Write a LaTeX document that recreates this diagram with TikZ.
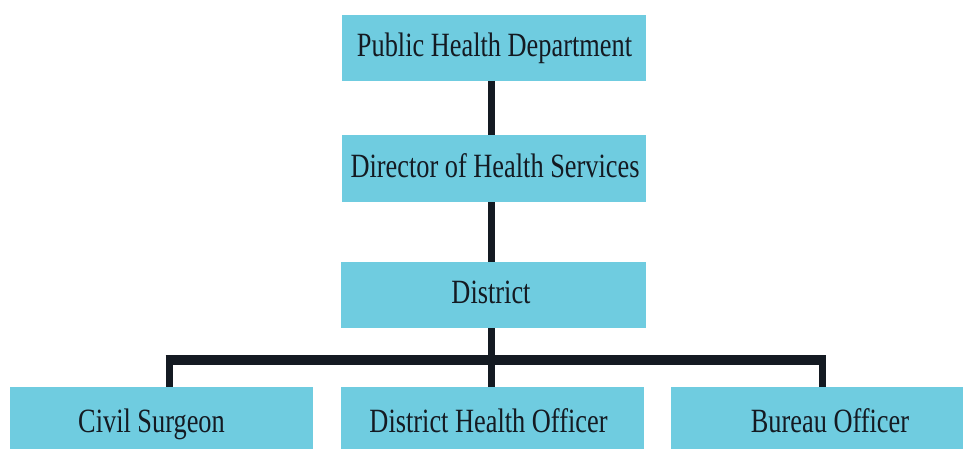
\documentclass[tikz,border=0pt]{standalone}
\usepackage{fontspec}
\setmainfont{Liberation Serif}[FakeStretch=0.775]
\definecolor{boxc}{HTML}{6FCCE0}
\definecolor{inkc}{HTML}{141A22}
\begin{document}
\begin{tikzpicture}[x=1pt,y=-1pt,
  box/.style={fill=boxc, draw=none, inner sep=0pt, outer sep=0pt},
  lbl/.style={font=\fontsize{34}{40}\selectfont, anchor=base, inner sep=0pt, text=inkc},
  conn/.style={line width=7pt, draw=inkc},
  hbar/.style={line width=9.5pt, draw=inkc}]
\useasboundingbox (0,0) rectangle (963,449);
\clip (0,0) rectangle (963,449);
% boxes
\node[box, minimum width=304pt, minimum height=66pt] (phd) at (494,48) {};
\node[box, minimum width=304pt, minimum height=67pt] (dhs) at (494,168.5) {};
\node[box, minimum width=305pt, minimum height=66pt] (dist) at (493.5,295) {};
\node[box, minimum width=303pt, minimum height=72pt] (cs) at (161.5,423) {};
\node[box, minimum width=303pt, minimum height=72pt] (dho) at (492.5,423) {};
\node[box, minimum width=318pt, minimum height=72pt] (bur) at (830,423) {};
% labels
\node[lbl] (phdT) at (494.5,57) {Public Health Department};
\node[lbl] (dhsT) at (495,178) {Director of Health Services};
\node[lbl] (distT) at (491,303) {District};
\node[lbl] (csT) at (151.5,432) {Civil Surgeon};
\node[lbl] (dhoT) at (488.5,432) {District Health Officer};
\node[lbl] (burT) at (830,432) {Bureau Officer};
% connectors
\coordinate (v) at (491.5,0);
\coordinate (hl) at (169,360);
\coordinate (hr) at (822,360);
\coordinate (hlo) at (165.5,360);
\coordinate (hro) at (825.5,360);
\draw[conn] (v |- phd.south) -- (v |- dhs.north);
\draw[conn] (v |- dhs.south) -- (v |- dist.north);
\draw[conn] (v |- dist.south) -- (v |- dho.north);
\draw[hbar] (hlo) -- (hro);
\draw[conn] ([yshift=4pt]hl) -- (hl |- cs.north);
\draw[conn] ([yshift=4pt]hr) -- (hr |- bur.north);
\end{tikzpicture}
\end{document}
